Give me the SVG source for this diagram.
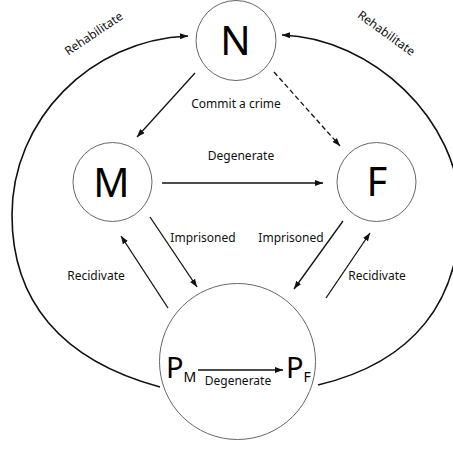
<svg xmlns="http://www.w3.org/2000/svg" width="453" height="451" viewBox="0 0 453 451">
<style>
.node{fill:#fff;stroke:#666;stroke-width:1}
.big{font-family:"Noto Sans","Open Sans",sans-serif;fill:#000;text-anchor:middle}
.lbl{font-family:"Noto Sans","Open Sans",sans-serif;font-size:12px;fill:#111;text-anchor:middle}
.edge{fill:none;stroke:#111;stroke-width:1.3;marker-end:url(#ah)}
.arc{fill:none;stroke:#111;stroke-width:1.6;marker-end:url(#ah)}
.dash{stroke-dasharray:5 3}
</style>
<defs>
<marker id="ah" viewBox="0 0 8 6" refX="8" refY="3" markerWidth="8" markerHeight="6" markerUnits="userSpaceOnUse" orient="auto">
<path d="M0,0 L8,3 L0,6 z" fill="#111"/>
</marker>
</defs>
<rect width="453" height="451" fill="#fff"/>
<g id="node-N">
<circle class="node" cx="236" cy="40.5" r="40"/>
<text class="big" x="235.5" y="55" font-size="40">N</text>
</g>
<g id="node-M">
<circle class="node" cx="112.5" cy="182" r="39.5"/>
<text class="big" x="111.5" y="197" font-size="40">M</text>
</g>
<g id="node-F">
<circle class="node" cx="376.5" cy="182" r="39.5"/>
<text class="big" x="377" y="196" font-size="40">F</text>
</g>
<g id="node-P">
<circle class="node" cx="237.5" cy="361.5" r="78"/>
<text class="big" x="166" y="378" font-size="29" style="text-anchor:start">P<tspan font-size="14" dy="4">M</tspan></text>
<text class="big" x="286" y="378" font-size="29" style="text-anchor:start">P<tspan font-size="14" dy="4">F</tspan></text>
</g>
<g id="connectors">
<path class="arc" d="M160,387 C60,360 12,300 12,215 C12,120 90,40 188,36"/>
<path class="arc" d="M318,385 C415,362 460,300 460,212 C460,120 372,38 282,35"/>
<line class="edge" x1="195" y1="73" x2="137" y2="137"/>
<line class="edge dash" x1="274" y1="72" x2="340" y2="146"/>
<line class="edge" x1="162" y1="183" x2="323" y2="183"/>
<line class="edge" x1="150" y1="217" x2="197" y2="287"/>
<line class="edge" x1="168" y1="308" x2="121" y2="236"/>
<line class="edge" x1="343" y1="221" x2="294" y2="289"/>
<line class="edge" x1="326" y1="298" x2="370" y2="233"/>
<line class="edge" x1="198" y1="370" x2="283" y2="370"/>
<text class="lbl" x="236" y="108">Commit a crime</text>
<text class="lbl" x="241" y="160">Degenerate</text>
<text class="lbl" x="203" y="242">Imprisoned</text>
<text class="lbl" x="291" y="242">Imprisoned</text>
<text class="lbl" x="96" y="280">Recidivate</text>
<text class="lbl" x="377" y="280">Recidivate</text>
<text class="lbl" x="238" y="385">Degenerate</text>
<text class="lbl" transform="translate(96,37) rotate(-34)">Rehabilitate</text>
<text class="lbl" transform="translate(384,36.5) rotate(36)">Rehabilitate</text>
</g>
</svg>
